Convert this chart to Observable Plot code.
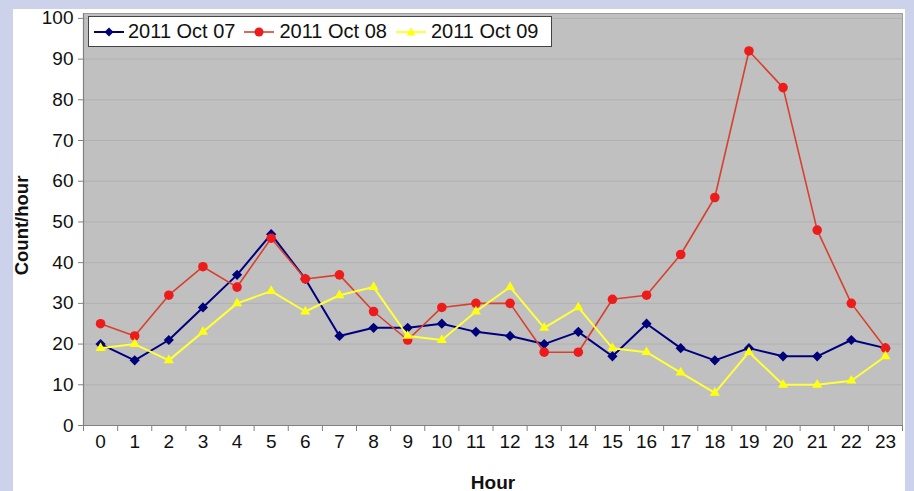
<!DOCTYPE html>
<html><head><meta charset="utf-8">
<script src="https://cdn.jsdelivr.net/npm/d3@7"></script>
<script src="https://cdn.jsdelivr.net/npm/@observablehq/plot@0.6"></script>
<style>
html,body{margin:0;padding:0;background:#ccd2ea;width:914px;height:491px;overflow:hidden;font-family:"Liberation Sans",Arial,sans-serif;}
#panel{position:absolute;left:13px;top:9px;width:892px;height:482px;background:#fff;}
#legend{position:absolute;left:88px;top:16px;width:464px;height:31px;background:#fff;border:1px solid #444;display:flex;align-items:center;font-size:20px;color:#111;box-sizing:border-box;}
#legend .item{display:flex;align-items:center;margin-left:5px;}
#legend svg{margin-right:4px;}
</style></head><body>
<div id="panel"></div>
<script>
const hours = [0,1,2,3,4,5,6,7,8,9,10,11,12,13,14,15,16,17,18,19,20,21,22,23];
const seriesNames = ["2011 Oct 07", "2011 Oct 08", "2011 Oct 09"];
const oct07 = [20,16,21,29,37,47,36,22,24,24,25,23,22,20,23,17,25,19,16,19,17,17,21,19];
const oct08 = [25,22,32,39,34,46,36,37,28,21,29,30,30,18,18,31,32,42,56,92,83,48,30,19];
const oct09 = [19,20,16,23,30,33,28,32,34,22,21,28,34,24,29,19,18,13,8,18,10,10,11,17];
const yTicks = [0,10,20,30,40,50,60,70,80,90,100];

const lineColors = ["#00007e", "#d8402e", "#ffff3a"];
const markColors = ["#00007a", "#ee1b1b", "#ffff10"];
const symbols = ["diamond2", "circle", "triangle2"];
const widths = [2, 1.6, 2];
const radii = [4.6, 4.8, 4.8];

const allValues = [oct07, oct08, oct09];
const rows = [];
seriesNames.forEach((s, i) => hours.forEach((h, j) => rows.push({series: s, hour: h, value: allValues[i][j]})));
const edges = hours.map(h => h - 0.5).concat([hours[hours.length - 1] + 0.5]);

const marks = [
  Plot.frame({fill: "#c0c0c0", stroke: "#9c9c9c"}),
  Plot.gridY(yTicks, {stroke: "#b1b1b1", strokeOpacity: 1}),
  Plot.ruleX([edges[0]], {stroke: "#808080", strokeWidth: 1.2}),
  Plot.ruleY([0], {stroke: "#808080", strokeWidth: 1.2}),
  Plot.axisY(yTicks, {tickSize: 0, tickPadding: 10, label: null, fill: "#111"}),
  Plot.axisY(yTicks, {tickSize: 5, tickFormat: () => "", label: null, stroke: "#808080"}),
  Plot.axisX(hours, {tickSize: 0, tickPadding: 9, label: null, fill: "#111"}),
  Plot.axisX(edges, {tickSize: 6, tickFormat: () => "", label: null, stroke: "#808080"})
];
seriesNames.forEach((s, i) => {
  const d = rows.filter(r => r.series === s);
  marks.push(Plot.line(d, {x: "hour", y: "value", stroke: lineColors[i], strokeWidth: widths[i]}));
});
seriesNames.forEach((s, i) => {
  const d = rows.filter(r => r.series === s);
  marks.push(Plot.dot(d, {x: "hour", y: "value", fill: markColors[i], symbol: () => symbols[i], r: radii[i], stroke: "none"}));
});
marks.push(Plot.text(["Count/hour"], {frameAnchor: "left", textAnchor: "middle", dx: -61, dy: 6, rotate: -90, fontWeight: "bold", fontSize: 18.5, fill: "#111"}));
marks.push(Plot.text(["Hour"], {frameAnchor: "bottom", dy: 63, fontWeight: "bold", fontSize: 19, fill: "#111"}));

const chart = Plot.plot({
  width: 892, height: 482,
  marginLeft: 70, marginRight: 3, marginTop: 4, marginBottom: 66,
  style: {fontSize: "19px", fontFamily: "'Liberation Sans', Arial, sans-serif", background: "transparent", overflow: "visible"},
  x: {type: "linear", domain: [edges[0], edges[edges.length - 1]]},
  y: {domain: [0, 101.2]},
  symbol: {type: "identity"},
  marks
});
const panel = document.getElementById("panel");
panel.appendChild(chart);

const legend = document.createElement("div");
legend.id = "legend";
const symPaths = [
  '<path d="M15,1.5 L19.5,6 L15,10.5 L10.5,6 Z" fill="#00007a"/>',
  '<circle cx="15" cy="6" r="4.5" fill="#ee1b1b"/>',
  '<path d="M15,1.5 L19.5,9.5 L10.5,9.5 Z" fill="#ffff10"/>'
];
seriesNames.forEach((s, i) => {
  const it = document.createElement("div");
  it.className = "item";
  it.innerHTML = '<svg width="30" height="12"><line x1="0" y1="6" x2="30" y2="6" stroke="' + lineColors[i] + '" stroke-width="' + widths[i] + '"/>' + symPaths[i] + '</svg><span>' + s + '</span>';
  if (i > 0) { it.style.marginLeft = "9px"; it.querySelector("svg").style.marginRight = "5px"; }
  legend.appendChild(it);
});
document.body.appendChild(legend);
</script>
</body></html>
